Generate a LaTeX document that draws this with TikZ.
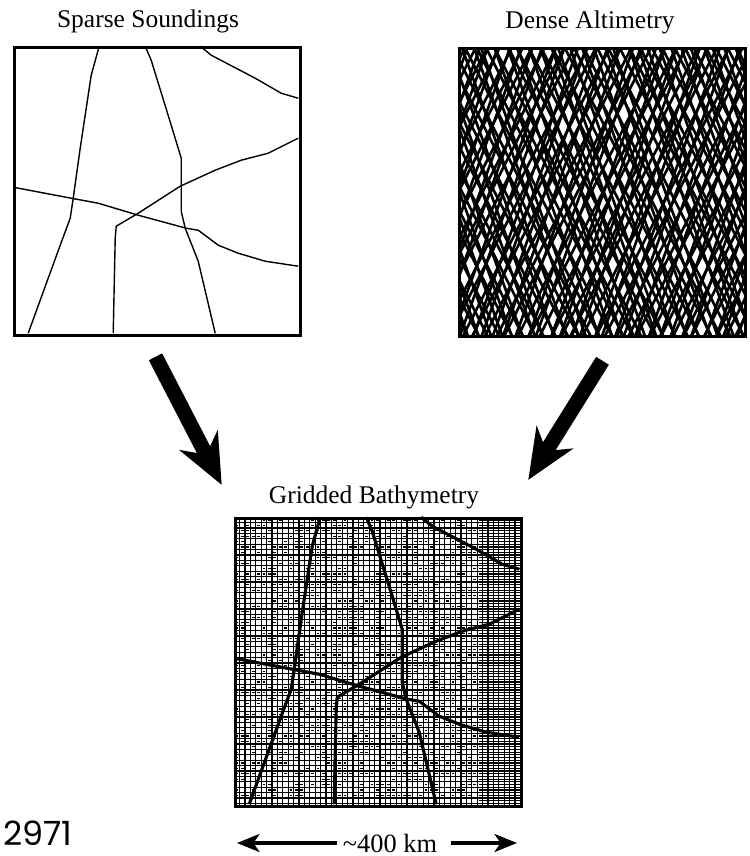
\documentclass[tikz,border=0pt]{standalone}
\usepackage{fontspec}
\setmainfont{Liberation Serif}
\newfontfamily\notefont{Poppins}
\usetikzlibrary{arrows.meta,calc}

% ship tracks, in pixel units from the top left corner of a panel
\newcommand{\soundingtracks}[1]{%
  \draw[#1] (86,0) -- (78,29) -- (67,102) -- (60,152) -- (57,172) -- (47,199) -- (15,287);
  \draw[#1] (132,0) -- (138,14) -- (158,79) -- (168,112) -- (168,165) -- (172,182) -- (185,215) -- (202,287);
  \draw[#1] (187,0) -- (198,9) -- (242,32) -- (268,47) -- (285,52);
  \draw[#1] (285,92) -- (255,107) -- (228,114) -- (202,124) -- (167,140) -- (125,167) -- (103,180) -- (102,192) -- (100,287);
  \draw[#1] (0,141) -- (58,152) -- (85,157) -- (125,169) -- (173,182) -- (185,184) -- (205,199) -- (225,207) -- (252,215) -- (285,220);
}

\begin{document}
\begin{tikzpicture}[x=0.02cm, y=-0.02cm,
    panel/.style={draw, line width=1.5pt, minimum width=5.72cm, minimum height=5.76cm, inner sep=0pt},
    paneltitle/.style={font=\fontsize{14.5}{18}\selectfont, anchor=base},
    track/.style={line width=0.8pt, line join=round},
    alttrack/.style={line width=1.5pt},
    gridline/.style={line width=0.7pt},
    bigarrow/.style={line width=8.5pt, -{Stealth[length=1cm, width=0.85cm, inset=0.32cm]}},
    scalearrow/.style={line width=1.8pt, -{Stealth[length=0.45cm, width=0.36cm, inset=0.12cm]}}]
  \useasboundingbox (0,0) rectangle (750,856);

  % the three panels
  \node[panel] (sparse) at (157.5,191.5) {};
  \node[panel] (dense) at (602.5,192.5) {};
  \node[panel] (grid) at (378.5,662.5) {};

  \node[paneltitle] (sparsetitle) at (148,27) {Sparse Soundings};
  \node[paneltitle] (densetitle) at (590,28) {Dense Altimetry};
  \node[paneltitle] (gridtitle) at (374,503) {Gridded Bathymetry};

  % (a) sparse ship soundings
  \begin{scope}[shift={(sparse.north west)}]
    \soundingtracks{track}
  \end{scope}

  % (b) crossing altimeter tracks
  \begin{scope}
    \clip (dense.north west) rectangle (dense.south east);
    \begin{scope}[shift={(dense.north west)}]
      \pgfmathsetseed{11}
      \foreach \s in {-160,-149,...,290} {
        \pgfmathsetmacro{\ja}{\s+2.5*rand}
        \pgfmathsetmacro{\jb}{\s+146+2.5*rand}
        \draw[alttrack] (\ja,0) -- ++(147,289);
        \draw[alttrack] (\jb,0) -- ++(-147,289);
      }
      \foreach \s in {-112,-101,...,290} {
        \pgfmathsetmacro{\ja}{\s+5+2.5*rand}
        \pgfmathsetmacro{\jb}{\s+110+2.5*rand}
        \draw[alttrack] (\ja,0) -- ++(105,289);
        \draw[alttrack] (\jb,0) -- ++(-105,289);
      }
    \end{scope}
  \end{scope}
  \node[panel] at (dense) {};

  % (c) gridded result
  \begin{scope}[shift={(grid.north west)}]
    \foreach \g in {0,5.4,...,288} {
      \draw[gridline] (\g,0) -- (\g,288);
      \draw[gridline] (0,\g) -- (286,\g);
    }
    % denser hatching near the east edge
    \foreach \g in {2.7,8.1,...,288}
      \draw[gridline] (245,\g) -- (286,\g);
    \pgfmathsetseed{5}
    \foreach \k in {1,...,1500} {
      \pgfmathsetmacro{\px}{5.4*int(52*rnd)+1.3}
      \pgfmathsetmacro{\py}{5.4*int(52*rnd)+2.7}
      \draw[gridline] (\px,\py) -- ++(2.8,0);
    }
    \soundingtracks{line width=1.8pt, line join=round}
  \end{scope}
  \node[panel] at (grid) {};

  % merging arrows
  \draw[bigarrow] ($(sparse.south)+(-2,20)$) -- ($(gridtitle.west)+(-41,-12)$);
  \draw[bigarrow] ($(dense.south)+(0,23)$) -- ($(gridtitle.east)+(43,-17)$);

  % scale bar
  \coordinate (barL) at (237,843);
  \coordinate (barR) at (517,843);
  \node[font=\fontsize{15}{18}\selectfont] (km) at (390,843) {\textasciitilde400 km};
  \draw[scalearrow] (km.west) -- (barL);
  \draw[scalearrow] ($(km.east)+(8,0)$) -- (barR);

  \node[font=\notefont\fontsize{19}{23}\selectfont, anchor=base west, inner sep=0pt] (tag) at (3,845) {2971};
\end{tikzpicture}
\end{document}
